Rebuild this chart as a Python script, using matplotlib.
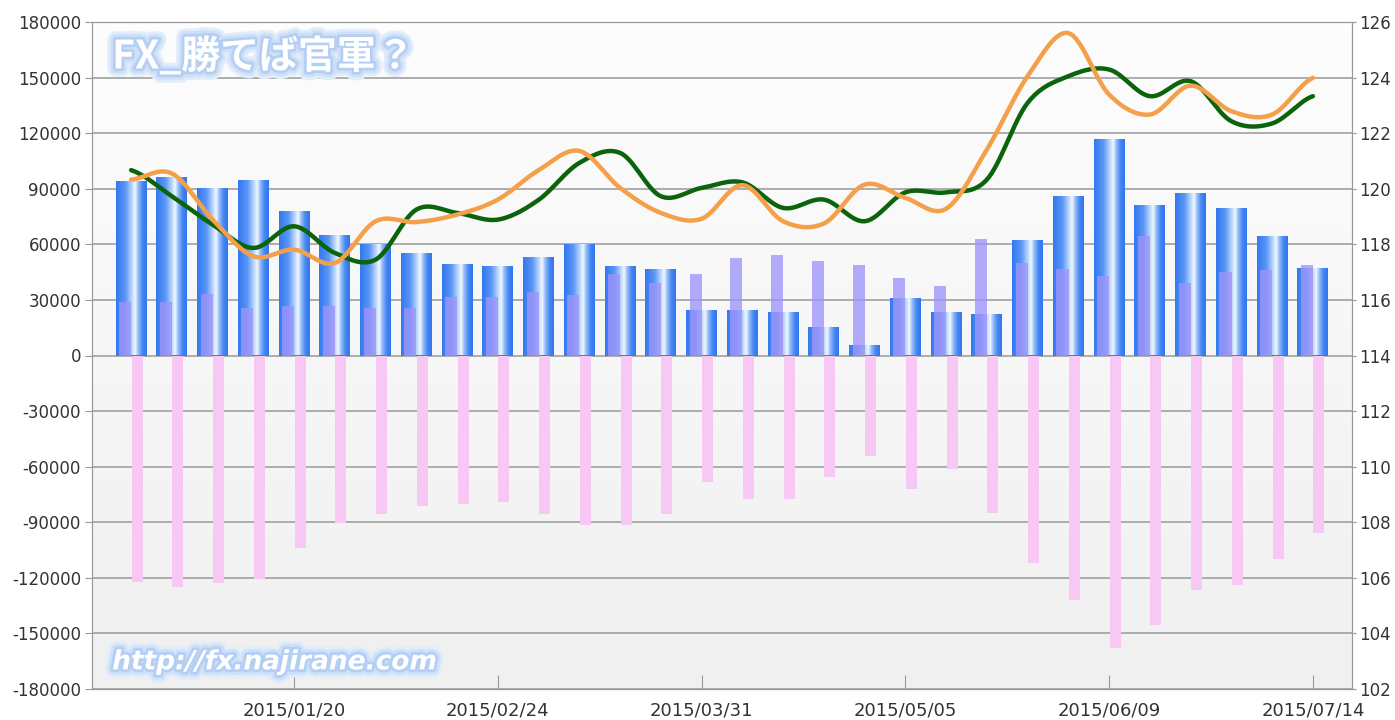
import numpy as np
import matplotlib
matplotlib.use("Agg")
import matplotlib.pyplot as plt
import matplotlib.patheffects as pe

# weekly dates (one bar group per week)
weeks = ["2014/12/23", "2014/12/30", "2015/01/06", "2015/01/13", "2015/01/20",
         "2015/01/27", "2015/02/03", "2015/02/10", "2015/02/17", "2015/02/24",
         "2015/03/03", "2015/03/10", "2015/03/17", "2015/03/24", "2015/03/31",
         "2015/04/07", "2015/04/14", "2015/04/21", "2015/04/28", "2015/05/05",
         "2015/05/12", "2015/05/19", "2015/05/26", "2015/06/02", "2015/06/09",
         "2015/06/16", "2015/06/23", "2015/06/30", "2015/07/07", "2015/07/14"]
tick_labels = ["2015/01/20", "2015/02/24", "2015/03/31", "2015/05/05", "2015/06/09", "2015/07/14"]

# positions (left axis)
net_pos = [93500, 95900, 89900, 94000, 77300, 64400, 59400, 55000, 49100, 47600,
           52700, 59400, 47600, 46000, 23900, 23900, 23000, 14600, 5000, 30600,
           23000, 22100, 62000, 85600, 116200, 80600, 87400, 79100, 63700, 46800]
long_pos = [28800, 28800, 33300, 25700, 26600, 26600, 25700, 25700, 31500, 31500,
            34200, 32400, 44200, 39200, 44200, 52700, 54300, 50900, 48600, 41700,
            37400, 63000, 50000, 46800, 42800, 64400, 39200, 44900, 45900, 49100]
short_pos = [-122100, -125000, -123000, -120500, -104100, -90600, -85300, -81000, -80000, -79100,
             -85800, -91500, -91500, -85300, -68200, -77700, -77700, -65500, -54000, -72300,
             -61000, -84900, -112200, -131700, -158100, -145300, -126600, -124100, -109700, -96000]

# rates (right axis)
green_rate = [120.67, 119.73, 118.71, 117.87, 118.65, 117.69, 117.45, 119.25, 119.13, 118.89,
              119.6, 120.93, 121.29, 119.73, 120.03, 120.23, 119.31, 119.61, 118.83, 119.87,
              119.87, 120.33, 123.09, 124.05, 124.29, 123.33, 123.87, 122.43, 122.35, 123.33]
orange_rate = [120.33, 120.55, 118.89, 117.57, 117.81, 117.33, 118.83, 118.8, 119.07, 119.61,
               120.67, 121.36, 120.03, 119.13, 118.92, 120.13, 118.83, 118.75, 120.15, 119.67,
               119.28, 121.41, 124.05, 125.6, 123.39, 122.67, 123.71, 122.79, 122.67, 123.99]


def smooth(y, n=16):
    # catmull-rom curve through the weekly values
    y = np.asarray(y, float)
    p = np.concatenate([[y[0]], y, [y[-1]]])
    t = np.linspace(0, 1, n, endpoint=False)
    xs, ys = [], []
    for i in range(len(y) - 1):
        p0, p1, p2, p3 = p[i], p[i + 1], p[i + 2], p[i + 3]
        ys.append(0.5 * (2 * p1 + (-p0 + p2) * t + (2 * p0 - 5 * p1 + 4 * p2 - p3) * t ** 2
                         + (-p0 + 3 * p1 - 3 * p2 + p3) * t ** 3))
        xs.append(i + t)
    xs.append([len(y) - 1])
    ys.append([y[-1]])
    return np.concatenate(xs), np.concatenate(ys)


x = np.arange(len(weeks))

fig = plt.figure(figsize=(13.95, 7.2), dpi=100)
ax = fig.add_axes([92 / 1395, 1 - 689 / 720, 1260 / 1395, 667 / 720])

# plot background gradient
bg = np.linspace(253, 240, 100)[:, None, None] * np.ones((1, 1, 3)) / 255
ax.imshow(bg, extent=[0, 1, 0, 1], transform=ax.transAxes, aspect="auto", zorder=0)

# blue bars with horizontal gradient
stops = [(0.0, (50, 120, 240)), (0.3, (90, 150, 246)), (0.5, (180, 210, 252)),
         (0.62, (242, 248, 255)), (0.72, (150, 190, 250)), (0.86, (70, 135, 243)),
         (1.0, (50, 118, 238))]
gp = np.linspace(0, 1, 64)
grad = np.stack([np.interp(gp, [s[0] for s in stops], [s[1][k] for s in stops]) for k in range(3)],
                axis=-1)[None, :, :] / 255
bars = ax.bar(x, net_pos, width=0.76, color="#3a7cf0", zorder=2)
for b in bars:
    x0, y0 = b.get_x(), b.get_y()
    ax.imshow(grad, extent=[x0, x0 + b.get_width(), y0, y0 + b.get_height()],
              aspect="auto", interpolation="bilinear", zorder=2.1)

ax.bar(x - 0.147, long_pos, width=0.30, color=(158 / 255, 148 / 255, 250 / 255), alpha=0.78, zorder=3)
ax.bar(x + 0.15, short_pos, width=0.27, color="#f8c8f5", zorder=3)

ax.set_xlim(-0.96, 29.96)
ax.set_ylim(-180000, 180000)
ax.set_yticks(np.arange(-180000, 180001, 30000))
ax.set_yticklabels([str(v) for v in range(-180000, 180001, 30000)])
ax.set_xticks([weeks.index(t) for t in tick_labels])
ax.set_xticklabels(tick_labels)
ax.set_axisbelow(True)
ax.grid(axis="y", color="#a0a0a0", linewidth=1.2, zorder=0.5)
ax.tick_params(axis="y", direction="out", length=5, pad=3, colors="#999999",
               labelcolor="#333333", labelsize=12)
ax.tick_params(axis="x", direction="in", length=10, pad=9, colors="#999999",
               labelcolor="#333333", labelsize=13)
for s in ax.spines.values():
    s.set_color("#999999")

ax2 = ax.twinx()
gx, gy = smooth(green_rate)
ox, oy = smooth(orange_rate)
ax2.plot(gx, gy, color="#0b640b", linewidth=3.2, solid_capstyle="round")
ax2.plot(ox, oy, color="#f4a04a", linewidth=3.2, solid_capstyle="round")
ax2.set_ylim(102, 126)
ax2.set_yticks(np.arange(102, 127, 2))
ax2.tick_params(axis="y", direction="out", length=3, pad=2, colors="#999999",
                labelcolor="#333333", labelsize=12)
for s in ax2.spines.values():
    s.set_color("#999999")

# soft light-blue glow round white text
glow = [pe.Stroke(linewidth=12, foreground="#e2edfb"),
        pe.Stroke(linewidth=8, foreground="#cfe0f8"),
        pe.Stroke(linewidth=4, foreground="#b4cff3"),
        pe.Normal()]
ax.text(0.016, 0.948, "FX_勝てば官軍？", transform=ax.transAxes, color="white",
        fontsize=28, fontweight="bold", style="italic", va="center", ha="left",
        family=["Noto Sans CJK JP", "DejaVu Sans"], path_effects=glow, zorder=5)
ax.text(0.016, 0.040, "http://fx.najirane.com", transform=ax.transAxes, color="white",
        fontsize=19, fontweight="bold", style="italic", va="center", ha="left",
        path_effects=glow, zorder=5)

fig.savefig("out.png", dpi=100, facecolor="white")
